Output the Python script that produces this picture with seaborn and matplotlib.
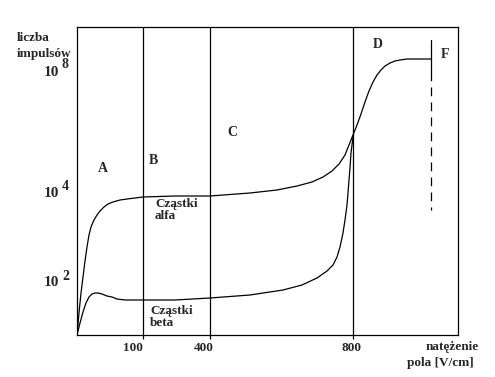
import numpy as np
import matplotlib
matplotlib.use("Agg")
import matplotlib.pyplot as plt
import pandas as pd
import seaborn as sns

# schematic axis units (not linear in field strength)
alfa_x = [0, 2, 4, 6, 8, 10, 12, 14, 17, 20, 23, 27, 31, 36, 43, 50, 58, 66, 98, 133,
          173, 200, 220, 235, 246, 255, 262, 268, 272, 276, 280, 284, 288, 292, 296,
          300, 304, 308, 313, 318, 323, 330, 354]
alfa_y = [0, 22, 42, 58, 74, 88, 100, 108, 115, 120, 124, 128, 131, 133, 135, 136, 137,
          138, 139, 139, 142, 145, 149, 153, 158, 164, 171, 180, 190, 200, 210, 221,
          233, 244, 253, 260, 265, 269, 272, 274, 275, 276, 276]

beta_x = [0, 3, 6, 9, 12, 15, 18, 21, 25, 30, 35, 40, 48, 66, 98, 133, 173, 206, 225,
          240, 250, 256, 260, 263, 266, 268, 270, 271, 272, 273, 274, 276]
beta_y = [0, 12, 23, 32, 38, 41, 42, 42, 41, 39, 38, 36, 35, 35, 35, 37, 40, 45, 50,
          57, 64, 70, 78, 88, 102, 115, 130, 142, 155, 167, 182, 198]

granice_x = [66, 133, 276]
granice_lab = ["100", "400", "800"]
granica_f = 354

obszary = ["A", "B", "C", "D", "F"]
obszary_pos = [(26, 167), (76, 174), (155, 202), (301, 290), (368, 280)]

potegi = ["8", "4", "2"]
potegi_y = [263, 142, 52]

sns.set_style("white")
plt.rcParams["font.family"] = ["Liberation Serif", "DejaVu Serif"]
plt.rcParams["font.weight"] = "bold"

W, H = 495, 377
fig = plt.figure(figsize=(W / 100, H / 100), dpi=100)
ax = fig.add_axes([77 / W, (H - 335) / H, 381 / W, 308 / H])
ax.set_xlim(0, 381)
ax.set_ylim(0, 308)

df_a = pd.DataFrame({"x": alfa_x, "y": alfa_y})
df_b = pd.DataFrame({"x": beta_x, "y": beta_y})
sns.lineplot(data=df_a, x="x", y="y", ax=ax, color="black", lw=0.9, sort=False, estimator=None)
sns.lineplot(data=df_b, x="x", y="y", ax=ax, color="black", lw=0.9, sort=False, estimator=None)

for gx in granice_x:
    ax.axvline(gx, color="black", lw=0.9)
ax.plot([granica_f, granica_f], [295, 263], color="black", lw=0.9)
ax.plot([granica_f, granica_f], [263, 125], color="black", lw=0.9, dashes=(7, 5))

for s in ax.spines.values():
    s.set_color("black")
    s.set_linewidth(0.9)

ax.set_xticks(granice_x, labels=[""] * 3)
ax.tick_params(axis="x", direction="out", length=3, width=0.9, color="black", bottom=True)
ax.set_yticks([])
ax.set_xlabel("")
ax.set_ylabel("")

fs = 9.5
for lab, (lx, ly) in zip(obszary, obszary_pos):
    ax.text(lx, ly, lab, fontsize=10, fontweight="bold", ha="center", va="center")

ax.text(78, 125, "Cząstki\nalfa", fontsize=fs, fontweight="bold", va="center",
        linespacing=1.05)
ax.text(73, 18, "Cząstki\nbeta", fontsize=fs, fontweight="bold", va="center",
        linespacing=1.05)

for lab, gx, off in zip(granice_lab, granice_x, [-10, -6, -2]):
    ax.text(gx + off, -13, lab, fontsize=fs, fontweight="bold", ha="center", va="center")

def px(x, y):
    return x / W, 1 - y / H

fig.text(*px(17, 38), "liczba", fontsize=fs, fontweight="bold", va="center")
fig.text(*px(17, 54), "impulsów", fontsize=fs, fontweight="bold", va="center")
for p, py in zip(potegi, potegi_y):
    yy = 335 - py
    fig.text(*px(59, yy), "10", fontsize=11, fontweight="bold", ha="right", va="center")
    fig.text(*px(62, yy - 7), p, fontsize=10, fontweight="bold", ha="left", va="center")

fig.text(*px(479, 347), "natężenie", fontsize=fs, fontweight="bold", ha="right", va="center")
fig.text(*px(474, 363), "pola [V/cm]", fontsize=fs, fontweight="bold", ha="right", va="center")

fig.savefig("out.png", dpi=100)
